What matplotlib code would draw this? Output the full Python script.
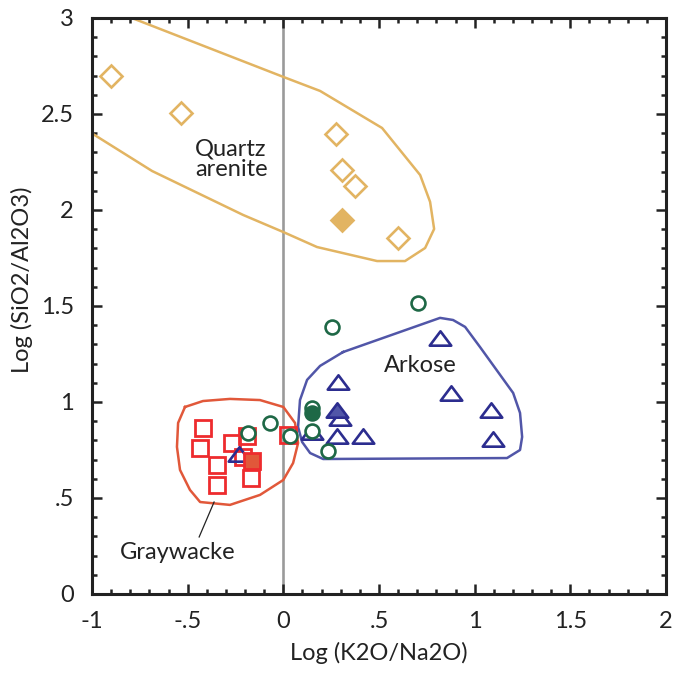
import numpy as np
import matplotlib.pyplot as plt
from matplotlib.ticker import MultipleLocator, FixedLocator, FixedFormatter
from matplotlib.path import Path

plt.rcParams['font.family'] = ['Lato', 'DejaVu Sans']

# sample points: log(K2O/Na2O), log(SiO2/Al2O3)
quartz_x = [-0.90, -0.535, 0.275, 0.307, 0.375, 0.60]
quartz_y = [2.70, 2.505, 2.396, 2.21, 2.125, 1.854]
quartz_mean = (0.307, 1.948)

gray_x = [-0.420, -0.435, -0.347, -0.268, -0.190, -0.211, -0.169, -0.347, 0.025]
gray_y = [0.865, 0.760, 0.672, 0.786, 0.823, 0.714, 0.604, 0.568, 0.828]
gray_mean = (-0.164, 0.693)

ark_x = [-0.23, 0.286, 0.296, 0.150, 0.281, 0.417, 0.819, 0.877, 1.086, 1.096]
ark_y = [0.73, 1.104, 0.917, 0.844, 0.823, 0.823, 1.333, 1.047, 0.958, 0.807]
ark_mean = (0.281, 0.958)

other_x = [0.255, 0.704, -0.185, -0.070, 0.035, 0.150, 0.150, 0.234]
other_y = [1.391, 1.516, 0.839, 0.891, 0.823, 0.969, 0.849, 0.745]
other_mean = (0.150, 0.943)

# field outlines
quartz_field_x = [-1.05, 0.0, 0.192, 0.516, 0.715, 0.767, 0.788, 0.741, 0.636, 0.49,
                  0.176, 0.0, -0.21, -0.686, -1.05]
quartz_field_y = [3.10, 2.693, 2.62, 2.427, 2.182, 2.042, 1.901, 1.802, 1.734, 1.734,
                  1.807, 1.885, 1.974, 2.203, 2.43]
gray_field_x = [-0.514, -0.420, -0.279, -0.122, 0.0, 0.061, 0.077, 0.051, 0.0, -0.122,
                -0.279, -0.435, -0.488, -0.54, -0.556, -0.550, -0.514]
gray_field_y = [0.974, 1.005, 1.016, 1.01, 0.974, 0.891, 0.786, 0.682, 0.594, 0.516,
                0.464, 0.479, 0.542, 0.646, 0.766, 0.891, 0.974]
ark_field_x = [0.312, 0.192, 0.124, 0.087, 0.077, 0.098, 0.140, 0.208, 1.169, 1.237,
               1.248, 1.237, 1.201, 1.028, 0.950, 0.887, 0.819, 0.312]
ark_field_y = [1.260, 1.188, 1.115, 1.010, 0.870, 0.792, 0.734, 0.703, 0.708, 0.750,
               0.818, 0.943, 1.047, 1.286, 1.391, 1.427, 1.438, 1.260]

tan = '#e2b462'
red = '#ee2b2e'
orange = '#e1583a'
navy = '#2c2d8f'
blue = '#5156a8'
green = '#1e6846'
ink = '#222222'

# flattened triangle marker
tri = Path([(-1.5, -1.0), (1.5, -1.0), (0.0, 1.0), (-1.5, -1.0)],
           [Path.MOVETO, Path.LINETO, Path.LINETO, Path.CLOSEPOLY])

fig = plt.figure(figsize=(6.75, 6.73), dpi=100)
ax = fig.add_axes([0.1363, 0.1174, 0.8504, 0.8559])

ax.axvline(0, color='#9a9a9a', lw=1.9, zorder=1)

ax.plot(quartz_field_x, quartz_field_y, color=tan, lw=1.8, zorder=2)
ax.plot(gray_field_x, gray_field_y, color=orange, lw=1.8, zorder=2)
ax.plot(ark_field_x, ark_field_y, color=blue, lw=1.8, zorder=2)

ax.plot(quartz_x, quartz_y, 'D', ms=11, mfc='none', mec=tan, mew=1.9, zorder=3)
ax.plot(*quartz_mean, 'D', ms=11, mfc=tan, mec=tan, mew=1.9, zorder=4)

ax.plot(gray_x, gray_y, 's', ms=11, mfc='none', mec=red, mew=2.0, zorder=3)
ax.plot(*gray_mean, 's', ms=11, mfc=orange, mec=red, mew=2.0, zorder=4)

ax.plot(ark_x, ark_y, ls='none', marker=tri, ms=15.5, mfc='none', mec=navy, mew=1.9, zorder=3)
ax.plot(*ark_mean, ls='none', marker=tri, ms=15.5, mfc=blue, mec=navy, mew=1.9, zorder=4)

ax.plot(other_x, other_y, 'o', ms=10, mfc='white', mec=green, mew=1.9, zorder=5)
ax.plot(*other_mean, 'o', ms=10, mfc=green, mec=green, mew=1.9, zorder=6)

ax.text(-0.46, 2.265, 'Quartz\narenite', fontsize=17, color=ink,
        ha='left', va='center', linespacing=0.95)
ax.text(0.715, 1.19, 'Arkose', fontsize=17, color=ink, ha='center', va='center')
ax.text(-0.55, 0.215, 'Graywacke', fontsize=17, color=ink, ha='center', va='center')
ax.plot([-0.362, -0.44], [0.479, 0.297], color=ink, lw=0.9, zorder=2)

ax.set_xlim(-1, 2)
ax.set_ylim(0, 3)

xt = [-1, -0.5, 0, 0.5, 1, 1.5, 2]
xt_labels = ['-1', '-.5', '0', '.5', '1', '1.5', '2']
yt = [0, 0.5, 1, 1.5, 2, 2.5, 3]
yt_labels = ['0', '.5', '1', '1.5', '2', '2.5', '3']
ax.xaxis.set_major_locator(FixedLocator(xt))
ax.xaxis.set_major_formatter(FixedFormatter(xt_labels))
ax.yaxis.set_major_locator(FixedLocator(yt))
ax.yaxis.set_major_formatter(FixedFormatter(yt_labels))
ax.xaxis.set_minor_locator(MultipleLocator(0.1))
ax.yaxis.set_minor_locator(MultipleLocator(0.1))

ax.tick_params(which='both', direction='in', top=True, right=True, width=1.8,
               color=ink, labelsize=17, labelcolor=ink)
ax.tick_params(which='major', length=7.5)
ax.tick_params(which='minor', length=3.5)
ax.tick_params(axis='x', pad=12)
ax.tick_params(axis='y', pad=13)
for s in ax.spines.values():
    s.set_linewidth(2.2)
    s.set_color(ink)

ax.set_xlabel('Log (K2O/Na2O)', fontsize=17, color=ink)
ax.set_ylabel('Log (SiO2/Al2O3)', fontsize=17, color=ink)
ax.xaxis.set_label_coords(0.5, -0.083)
ax.yaxis.set_label_coords(-0.103, 0.545)

fig.savefig('out.png', dpi=100)
